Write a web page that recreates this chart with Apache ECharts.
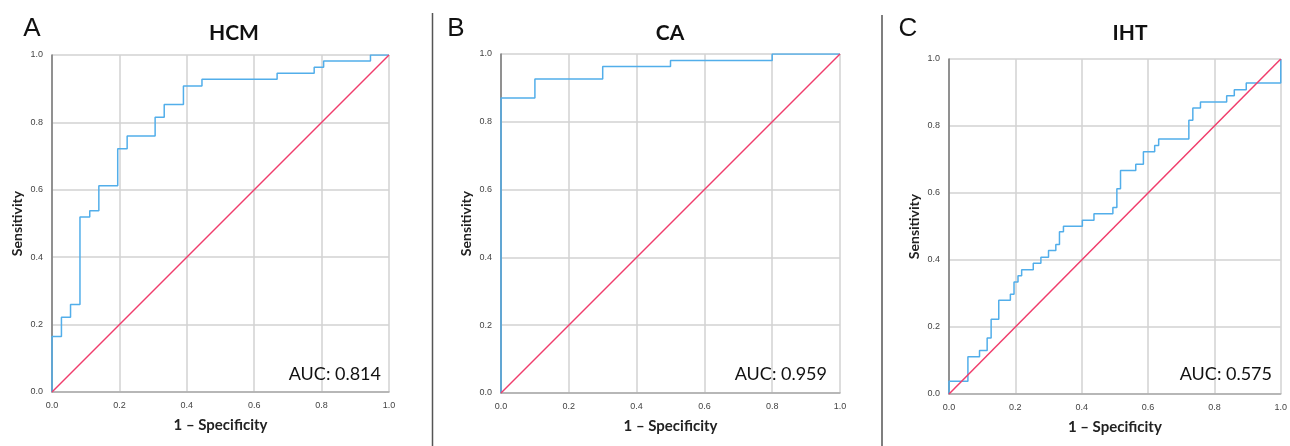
<!DOCTYPE html>
<html>
<head>
<meta charset="utf-8">
<script src="https://cdn.jsdelivr.net/npm/echarts@6/dist/echarts.min.js"></script>
<style>
html,body{margin:0;padding:0;background:#fff;}
#chart{width:1290px;height:446px;}
</style>
</head>
<body>
<div id="chart"></div>
<script>
// ---- data (ROC step corners, step turns at start) ----
var panelLetters = ['A', 'B', 'C'];
var panelTitles = ['HCM', 'CA', 'IHT'];
var aucLabels = ['AUC: 0.814', 'AUC: 0.959', 'AUC: 0.575'];
var tickLabels = ['0.0', '0.2', '0.4', '0.6', '0.8', '1.0'];

var hcmFpr = [0, 0.028, 0.055, 0.083, 0.112, 0.139, 0.195, 0.223, 0.306, 0.333, 0.390, 0.445, 0.668, 0.778, 0.806, 0.945, 1.0];
var hcmTpr = [0, 0.165, 0.222, 0.260, 0.519, 0.538, 0.612, 0.722, 0.760, 0.815, 0.853, 0.908, 0.928, 0.946, 0.964, 0.982, 1.0];

var caFpr = [0, 0.1, 0.3, 0.5, 0.8, 1.0];
var caTpr = [0, 0.870, 0.926, 0.963, 0.981, 1.0];

var ihtFpr = [0, 0.057, 0.092, 0.115, 0.127, 0.150, 0.185, 0.196, 0.208, 0.219, 0.254, 0.277, 0.300, 0.322, 0.333, 0.345, 0.402, 0.437, 0.494, 0.506, 0.517, 0.563, 0.586, 0.620, 0.632, 0.723, 0.735, 0.758, 0.837, 0.860, 0.896, 1.0, 1.0];
var ihtTpr = [0, 0.038, 0.111, 0.130, 0.167, 0.223, 0.280, 0.298, 0.334, 0.353, 0.371, 0.390, 0.408, 0.428, 0.446, 0.484, 0.501, 0.519, 0.538, 0.557, 0.613, 0.667, 0.686, 0.723, 0.742, 0.761, 0.817, 0.854, 0.872, 0.890, 0.908, 0.928, 1.0];

var refLine = [[0, 0], [1, 1]];

var rocFpr = [hcmFpr, caFpr, ihtFpr];
var rocTpr = [hcmTpr, caTpr, ihtTpr];

// ---- layout ----
var grids = [
  {left: 52, top: 55, width: 337, height: 337},
  {left: 501, top: 54, width: 339, height: 339},
  {left: 949, top: 59, width: 336, height: 335}
];
var titleX = [229, 665, 1125];
var letterX = [27, 451, 903];
var aucRight = [381, 827, 1272];

function zip(a, b) { return a.map(function (v, i) { return [v, b[i]]; }); }
function fmt(v) { return tickLabels[Math.round(v / 0.2)]; }

var BLUE = '#52aeea', RED = '#f03d6c', GRID = '#d2d2d2';

var option = {
  animation: false,
  backgroundColor: '#fff',
  title: [],
  grid: [],
  xAxis: [],
  yAxis: [],
  series: [],
  graphic: []
};

for (var i = 0; i < 3; i++) {
  var g = grids[i];
  option.grid.push({left: g.left, top: g.top, width: g.width, height: g.height, containLabel: false});
  option.title.push({
    text: panelTitles[i], left: titleX[i], top: 18, textAlign: 'center',
    textStyle: {fontFamily: 'Lato', fontWeight: 'bold', fontSize: 21, color: '#111'}
  });
  option.title.push({
    text: panelLetters[i], left: letterX[i], top: 11, textAlign: 'center',
    textStyle: {fontFamily: 'Liberation Sans', fontWeight: 'normal', fontSize: 26, color: '#111'}
  });
  option.xAxis.push({
    type: 'value', gridIndex: i, min: 0, max: 1, interval: 0.2,
    name: '1 – Specificity', nameLocation: 'middle', nameGap: 26,
    nameTextStyle: {fontFamily: 'Lato', fontWeight: 'bold', fontSize: 15, color: '#222'},
    axisLine: {show: true, lineStyle: {color: '#aaa', width: 1.5}},
    axisTick: {show: false},
    axisLabel: {formatter: fmt, fontFamily: 'Liberation Sans', fontSize: 9, color: '#444', margin: 9},
    splitLine: {show: true, lineStyle: {color: GRID, width: 1.5}}
  });
  option.yAxis.push({
    type: 'value', gridIndex: i, min: 0, max: 1, interval: 0.2,
    name: 'Sensitivity', nameLocation: 'middle', nameGap: 28,
    nameTextStyle: {fontFamily: 'Lato', fontWeight: 'bold', fontSize: 14, color: '#222'},
    axisLine: {show: true, lineStyle: {color: '#777', width: 1.5}},
    axisTick: {show: false},
    axisLabel: {formatter: fmt, fontFamily: 'Liberation Sans', fontSize: 9, color: '#444', margin: 9},
    splitLine: {show: true, lineStyle: {color: GRID, width: 1.5}}
  });
  option.series.push({
    type: 'line', xAxisIndex: i, yAxisIndex: i, step: 'start',
    data: zip(rocFpr[i], rocTpr[i]), showSymbol: false, symbol: 'none',
    lineStyle: {color: BLUE, width: 1.5}, z: 3
  });
  option.series.push({
    type: 'line', xAxisIndex: i, yAxisIndex: i,
    data: refLine, showSymbol: false, symbol: 'none',
    lineStyle: {color: RED, width: 1.5}, z: 4
  });
  option.graphic.push({
    type: 'text', x: aucRight[i], y: 383,
    style: {text: aucLabels[i], align: 'right', verticalAlign: 'bottom',
      font: 'normal 18px Lato', fill: '#111'}, z: 10
  });
}

// panel separators
option.graphic.push({type: 'line', shape: {x1: 432.5, y1: 13, x2: 432.5, y2: 446}, style: {stroke: '#555', lineWidth: 1.5}});
option.graphic.push({type: 'line', shape: {x1: 882, y1: 15, x2: 882, y2: 446}, style: {stroke: '#555', lineWidth: 1.5}});

var chart = echarts.init(document.getElementById('chart'), null, {renderer: 'canvas'});
chart.setOption(option);
</script>
</body>
</html>
